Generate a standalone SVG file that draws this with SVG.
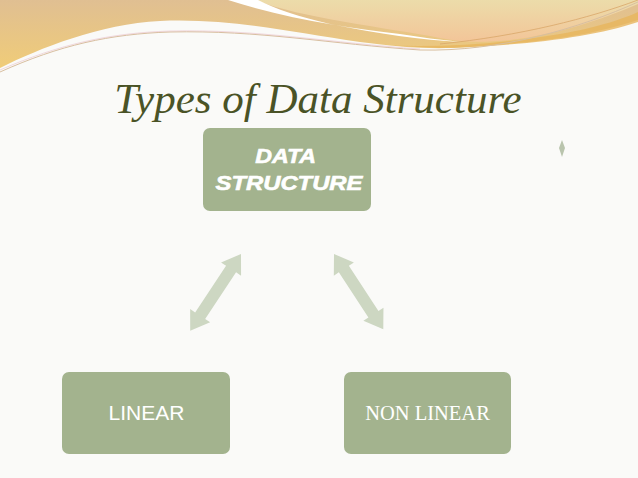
<svg xmlns="http://www.w3.org/2000/svg" width="638" height="478" viewBox="0 0 638 478">
<defs>
<style>
.box{fill:#a3b38e}
.arrow{fill:#cdd7c2}
.lbl{fill:#ffffff}
</style>
<linearGradient id="gPeach" x1="0" y1="0" x2="0" y2="1">
<stop offset="0" stop-color="#ecdcaa"/>
<stop offset="1" stop-color="#f3c598"/>
</linearGradient>
<linearGradient id="gTop" x1="0" y1="0" x2="0" y2="1">
<stop offset="0" stop-color="#e0bf92"/>
<stop offset="1" stop-color="#f0cc78"/>
</linearGradient>
</defs>
<rect width="638" height="478" fill="#fafaf8"/>
<g id="decor">
<path d="M0,0 H638 V20 C590,36 540,42 470,47 C430,50 400,47 360,42 C290,32 230,18 160,21 C100,24 40,48 0,68 Z" fill="url(#gTop)"/>
<path d="M380,45 C440,48 500,44 560,34 C600,27 625,18 638,12 V22 C590,38 520,46 440,48 Z" fill="#e7b55c" opacity="0.8"/>
<path d="M255,0 H638 V4 C600,20 560,34 510,40 C480,43 460,42 440,38 C390,28 300,18 255,0 Z" fill="url(#gPeach)"/>
<path d="M228,0 C290,20 350,28 400,34 C420,37 440,40 462,42 C420,40 380,34 330,24 C300,17 275,9 258,0 Z" fill="#ffffff"/>
<path d="M0,72 C60,45 110,34 170,32 C260,30 330,44 420,50 C500,52 580,28 638,2" fill="none" stroke="#d8bfa0" stroke-width="1"/>
<path d="M0,70 C60,44 110,33 170,31 C260,29 330,43 420,49" fill="none" stroke="#e3a9b6" stroke-width="0.6" opacity="0.7"/>
<path d="M440,44 C520,36 590,18 638,0" fill="none" stroke="#d9a76a" stroke-width="0.8"/>
<path d="M562,140 L565,148 L562,157 L559,148 Z" fill="#b9c4ad"/>
</g>
<text x="318" y="113" text-anchor="middle" font-family="Liberation Serif, serif" font-style="italic" font-size="43" fill="#4a5326">Types of Data Structure</text>
<g id="connectors">
<polygon class="arrow" transform="translate(241,254) rotate(123.5)" points="0,0 18,-12 18,-6 74,-6 74,-12 92,0 74,12 74,6 18,6 18,12"/>
<polygon class="arrow" transform="translate(334,254) rotate(56.8)" points="0,0 18,-12 18,-6 72,-6 72,-12 90,0 72,12 72,6 18,6 18,12"/>
</g>
<g id="node-data-structure">
<rect class="box" x="203" y="128" width="168" height="83" rx="7"/>
<text class="lbl" font-family="Liberation Sans, Arial, sans-serif" font-weight="bold" font-style="italic" font-size="20" text-anchor="middle" stroke="#ffffff" stroke-width="0.6">
<tspan x="288" y="163" textLength="60" lengthAdjust="spacingAndGlyphs">DATA</tspan>
<tspan x="289" y="190" textLength="147" lengthAdjust="spacingAndGlyphs">STRUCTURE</tspan>
</text>
</g>
<g id="node-linear">
<rect class="box" x="62" y="372" width="168" height="82" rx="7"/>
<text class="lbl" x="146.5" y="420" text-anchor="middle" font-family="Liberation Sans, Arial, sans-serif" font-size="21">LINEAR</text>
</g>
<g id="node-non-linear">
<rect class="box" x="344" y="372" width="167" height="82" rx="7"/>
<text class="lbl" x="427.5" y="420" text-anchor="middle" font-family="Liberation Serif, 'Times New Roman', serif" font-size="20.5">NON LINEAR</text>
</g>
</svg>
